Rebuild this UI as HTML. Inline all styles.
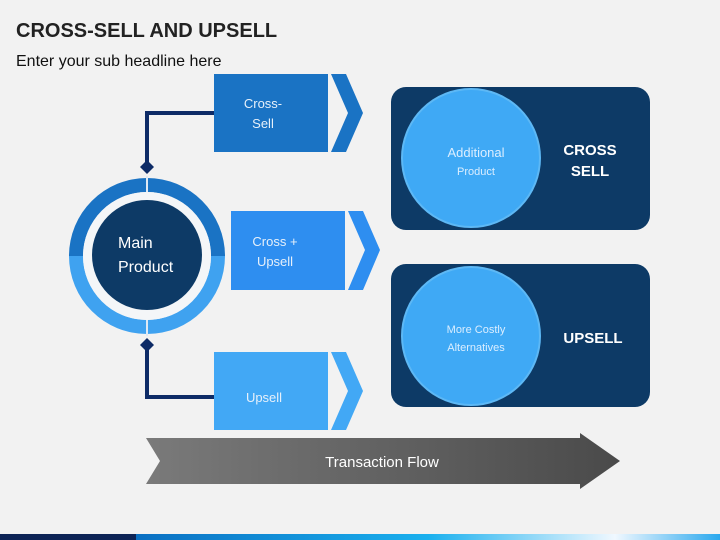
<!DOCTYPE html>
<html><head><style>
body{margin:0;width:720px;height:540px;background:#f2f2f2;overflow:hidden;font-family:"Liberation Sans",sans-serif;}
</style></head><body>
<svg width="720" height="540" viewBox="0 0 720 540" xmlns="http://www.w3.org/2000/svg" style="position:absolute;left:0;top:0">
<defs>
<linearGradient id="ar" x1="0" x2="1"><stop offset="0" stop-color="#7a7a7a"/><stop offset="1" stop-color="#4a4a4a"/></linearGradient>
<linearGradient id="bb" x1="0" x2="1"><stop offset="0" stop-color="#0a6fc2"/><stop offset="0.5" stop-color="#1ab0ee"/><stop offset="0.82" stop-color="#f0f8ff"/><stop offset="1" stop-color="#2aa8ee"/></linearGradient>
</defs>
<text x="16" y="37" font-size="20" font-weight="bold" fill="#222">CROSS-SELL AND UPSELL</text>
<text x="16" y="66" font-size="16" fill="#111">Enter your sub headline here</text>
<!-- connectors -->
<polyline points="214,113 147,113 147,167" fill="none" stroke="#0d2b66" stroke-width="4"/>
<polyline points="214,397 147,397 147,345" fill="none" stroke="#0d2b66" stroke-width="4"/>
<polygon points="147,160 154,167 147,174 140,167" fill="#0d2b66"/>
<polygon points="147,338 154,345 147,352 140,345" fill="#0d2b66"/>
<!-- ring -->
<path d="M69,256 A78,78 0 0 1 225,256 L211,256 A64,64 0 0 0 83,256 Z" fill="#1a73c4"/>
<path d="M69,256 A78,78 0 0 0 225,256 L211,256 A64,64 0 0 1 83,256 Z" fill="#3fa2f0"/>
<line x1="147" y1="176" x2="147" y2="192" stroke="#dfe9f4" stroke-width="2"/>
<line x1="147" y1="320" x2="147" y2="336" stroke="#dfe9f4" stroke-width="2"/>
<circle cx="147" cy="256" r="64" fill="#f4f6f8"/>
<circle cx="147" cy="255" r="55" fill="#0d3a66"/>
<text x="118" y="248" font-size="16" fill="#fff">Main</text>
<text x="118" y="272" font-size="16" fill="#fff">Product</text>
<!-- chevrons -->
<rect x="214" y="74" width="114" height="78" fill="#1a73c4"/>
<polygon points="331,74 346,74 363,113 346,152 331,152 348,113" fill="#1a73c4"/>
<text x="263" y="108" font-size="13" fill="#e6f0fa" text-anchor="middle">Cross-</text>
<text x="263" y="128" font-size="13" fill="#e6f0fa" text-anchor="middle">Sell</text>
<rect x="231" y="211" width="114" height="79" fill="#2e8ef0"/>
<polygon points="348,211 363,211 380,250 363,290 348,290 365,250" fill="#2e8ef0"/>
<text x="275" y="246" font-size="13" fill="#e6f0fa" text-anchor="middle">Cross +</text>
<text x="275" y="266" font-size="13" fill="#e6f0fa" text-anchor="middle">Upsell</text>
<rect x="214" y="352" width="114" height="78" fill="#42a8f5"/>
<polygon points="331,352 346,352 363,391 346,430 331,430 348,391" fill="#42a8f5"/>
<text x="264" y="402" font-size="13" fill="#e6f0fa" text-anchor="middle">Upsell</text>
<!-- panels -->
<rect x="391" y="87" width="259" height="143" rx="15" fill="#0d3a66"/>
<circle cx="471" cy="158" r="69" fill="#3fa9f5" stroke="#5db8f5" stroke-width="2"/>
<text x="476" y="157" font-size="13" fill="#dbeeff" text-anchor="middle">Additional</text>
<text x="476" y="175" font-size="11" fill="#dbeeff" text-anchor="middle">Product</text>
<text x="590" y="155" font-size="15" font-weight="bold" fill="#fff" text-anchor="middle">CROSS</text>
<text x="590" y="176" font-size="15" font-weight="bold" fill="#fff" text-anchor="middle">SELL</text>
<rect x="391" y="264" width="259" height="143" rx="15" fill="#0d3a66"/>
<circle cx="471" cy="336" r="69" fill="#3fa9f5" stroke="#5db8f5" stroke-width="2"/>
<text x="476" y="333" font-size="11" fill="#dbeeff" text-anchor="middle">More Costly</text>
<text x="476" y="351" font-size="11" fill="#dbeeff" text-anchor="middle">Alternatives</text>
<text x="593" y="343" font-size="15" font-weight="bold" fill="#fff" text-anchor="middle">UPSELL</text>
<!-- arrow -->
<polygon points="146,438 580,438 580,433 620,461 580,489 580,484 146,484 160,461" fill="url(#ar)"/>
<text x="382" y="467" font-size="15" fill="#fff" text-anchor="middle">Transaction Flow</text>
<!-- bottom bar -->
<rect x="0" y="534" width="136" height="6" fill="#0d2456"/>
<rect x="136" y="534" width="584" height="6" fill="url(#bb)"/>
</svg>
</body></html>
